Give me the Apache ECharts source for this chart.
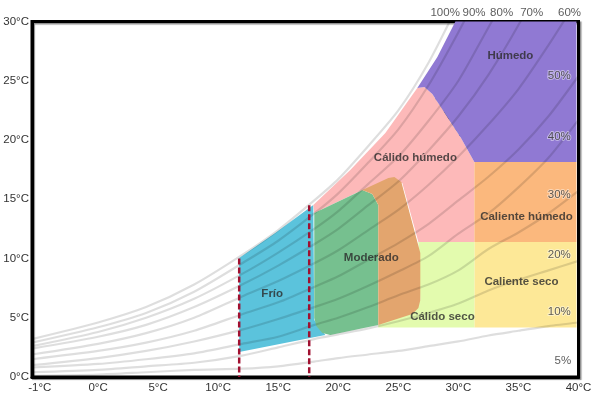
<!DOCTYPE html>
<html><head><meta charset="utf-8">
<style>html,body{margin:0;padding:0;background:#fff}#c{width:601px;height:405px}</style>
<script src="https://cdn.jsdelivr.net/npm/echarts@6/dist/echarts.min.js"></script>
</head><body><div id="c"></div>
<script>
const temps=[-5.5,0,4,8,12,15,18,20,22.5,25,27.5,30,32.5,35,37.5,40];
const rh100=[3.2,4.6,5.9,7.8,10.3,12.4,14.9,16.7,19.5,22.5,26.5,31.5,36.8,41.5,46.5,51];
const rh90=[2.9,4.2,5.4,7.2,9.6,11.5,13.8,15.5,18.1,20.9,24.6,29.1,34,39,44,49];
const rh80=[2.6,3.8,5.0,6.6,8.7,10.5,12.5,14.0,16.3,18.6,21.6,25.0,29.5,34,39,44];
const rh70=[2.4,3.4,4.4,5.9,7.8,9.4,11.2,12.5,14.5,16.5,19.1,22.0,25.5,29.7,34.5,39.5];
const rh60=[1.9,2.8,3.7,5.0,6.8,8.1,9.6,10.7,12.4,14.1,16.2,18.6,21.3,24.3,28,32];
const rh50=[1.5,2.2,2.9,3.9,5.3,6.3,7.6,8.5,9.9,11.3,12.9,14.9,16.9,19.2,22,25.4];
const rh40=[1.0,1.6,2.2,3.0,4.0,4.9,5.9,6.6,7.7,8.9,10.2,12.1,13.8,16,18.5,21.7];
const rh30=[0.8,1.1,1.5,2.0,2.8,3.4,4.4,5.0,5.9,6.9,7.8,9.0,10.8,12.2,13.8,15.7];
const rh20=[0.4,0.6,0.9,1.2,1.8,2.5,3.2,3.6,4.1,4.7,5.4,6.2,7.3,8.2,9.0,9.8];
const rh10=[0.1,0.2,0.4,0.6,0.7,0.9,1.3,1.6,1.9,2.2,2.6,3.0,3.5,3.9,4.3,4.6];
const curves=[rh100,rh90,rh80,rh70,rh60,rh50,rh40,rh30,rh20,rh10];

const zonePink=[[17.92,14.51],[21,17.47],[23.92,20.59],[26.58,24.39],[27.17,24.47],[27.83,23.88],[30.17,20.25],[31.33,18.14],[31.33,11.39],[26.67,11.39],[25.33,16.37],[21.83,15.7],[18,13.84]];
const zonePurple=[[26.58,24.39],[28.25,27],[29.75,30],[39.83,30],[39.83,18.14],[31.33,18.14],[30.17,20.25],[27.83,23.88],[27.17,24.47]];
const zoneHotHumid=[[31.33,18.14],[39.83,18.14],[39.83,11.39],[31.33,11.39]];
const zoneHotDry=[[31.33,11.39],[39.83,11.39],[39.83,4.18],[31.33,4.18]];
const zoneWarmDry=[[26.67,11.39],[31.33,11.39],[31.33,4.18],[23.33,4.18],[23.33,4.39],[26.83,6.5]];
const zoneCold=[[11.75,10.04],[14.75,12.15],[17.92,14.51],[18,4.81],[18.92,3.54],[11.75,2.11]];
const zoneModGreen=[[18,13.84],[21.67,15.61],[22,15.78],[22.83,15.44],[23.33,14.51],[23.33,4.39],[19.33,3.54],[18.67,3.71],[18.17,4.3],[18,4.98]];
const zoneModOrange=[[21.83,15.7],[24.17,16.79],[24.67,16.88],[25.25,16.46],[26.83,10.46],[26.83,6.5],[26.67,5.82],[26.17,5.32],[23.33,4.39],[23.33,14.51],[22.83,15.44],[22,15.78]];
const zones=[[zoneCold,'#5BC3DC'],[zonePink,'#FDB9B9'],[zonePurple,'#9079D3'],[zoneHotHumid,'#FBB87D'],[zoneHotDry,'#FDE897'],[zoneWarmDry,'#E3FBAE'],[zoneModGreen,'#76C08F'],[zoneModOrange,'#E3A56E']];

const zoneLabels=[['Húmedo',34.33,27.09],['Cálido húmedo',26.42,18.48],['Caliente húmedo',35.67,13.5],['Moderado',22.75,10.04],['Frío',14.5,7.0],['Caliente seco',35.25,8.02],['Cálido seco',28.67,5.06]];
const rhLabels=[['100%',28.9,30.75],['90%',31.3,30.75],['80%',33.6,30.75],['70%',36.1,30.75],['60%',39.25,30.75],['50%',38.4,25.4],['40%',38.4,20.3],['30%',38.4,15.4],['20%',38.4,10.3],['10%',38.4,5.5],['5%',38.7,1.35]];
const coldLimit=[[11.75,10],[11.75,0]];
const warmLimit=[[17.58,14.5],[17.58,0]];
const xTickValues=[-4.85,0,5,10,15,20,25,30,35,40];
const xTickLabels=['-1°C','0°C','5°C','10°C','15°C','20°C','25°C','30°C','35°C','40°C'];
const FONT='"Liberation Sans",Arial,sans-serif';

const series=[];
zones.forEach(([pts,color])=>{
  series.push({type:'custom',coordinateSystem:'cartesian2d',clip:false,silent:true,z:2,data:[[pts[0][0],pts[0][1]]],
    renderItem:(p,api)=>({type:'polygon',shape:{points:pts.map(q=>api.coord(q))},style:{fill:color}})});
});
curves.forEach(c=>{
  series.push({type:'line',z:3,smooth:0.25,symbol:'none',silent:true,clip:true,
    data:temps.map((t,i)=>[t,c[i]]),lineStyle:{color:'rgba(0,0,0,0.13)',width:2.2}});
});
[coldLimit,warmLimit].forEach(d=>{
  series.push({type:'line',z:4,symbol:'none',silent:true,data:d,lineStyle:{color:'#A01030',width:2.5,type:[6,3]}});
});
series.push({type:'scatter',z:6,symbolSize:0,silent:true,clip:false,
  data:zoneLabels.map(l=>({value:[l[1],l[2]],label:{show:true,formatter:l[0]}})),
  label:{show:true,position:'inside',color:'#2b2b2b',fontFamily:FONT,fontSize:11.5,fontWeight:'bold'}});
series.push({type:'scatter',z:6,symbolSize:0,silent:true,clip:false,
  data:rhLabels.map(l=>({value:[l[1],l[2]],label:{show:true,formatter:l[0]}})),
  label:{show:true,position:'inside',color:'#333',fontFamily:FONT,fontSize:11.5,textBorderColor:'rgba(255,255,255,0.55)',textBorderWidth:2}});

const chart=echarts.init(document.getElementById('c'),null,{renderer:'canvas'});
chart.setOption({
  animation:false,
  grid:{left:32,right:22.5,top:21.5,bottom:28,show:true,backgroundColor:'#fff',borderColor:'#000',borderWidth:3,shadowColor:'rgba(0,0,0,0.45)',shadowBlur:1,shadowOffsetX:1.5,shadowOffsetY:1.5},
  xAxis:{type:'value',min:-5.5,max:40,splitLine:{show:false},axisTick:{show:false},
    axisLine:{show:true,onZero:false,lineStyle:{color:'#000',width:3}},
    axisLabel:{customValues:xTickValues,formatter:v=>xTickLabels[xTickValues.indexOf(v)],color:'#333',fontFamily:FONT,fontSize:11.5,margin:5,hideOverlap:false,textBorderColor:'rgba(255,255,255,0.5)',textBorderWidth:1}},
  yAxis:{type:'value',min:0,max:30,interval:5,splitLine:{show:false},axisTick:{show:false},
    axisLine:{show:true,onZero:false,lineStyle:{color:'#000',width:3}},
    axisLabel:{formatter:'{value}°C',color:'#333',fontFamily:FONT,fontSize:11.5,margin:3}},
  series,
  graphic:[{type:'group',left:433,top:83,z:10,children:[
    {type:'circle',shape:{cx:27,cy:27,r:26},style:{fill:{type:'linear',x:0,y:0,x2:0,y2:1,colorStops:[{offset:0,color:'#D6EEFA'},{offset:1,color:'#A9D6F2'}]},stroke:'#1C5BA6',lineWidth:1.5}},
    {type:'text',style:{x:27,y:6,text:'Nº 1',font:'4.5px '+FONT,fill:'#234',textAlign:'center'}},
    {type:'rect',shape:{x:6,y:14,width:42,height:25},style:{fill:'#F4F1E8'}},
    {type:'rect',shape:{x:7,y:15,width:36,height:5},style:{fill:'#E0D2B4'}},
    {type:'rect',shape:{x:7,y:20,width:38,height:15},style:{fill:'#D8C8A8'}},
    {type:'rect',shape:{x:11,y:22,width:4,height:11},style:{fill:'#3F4F46'}},
    {type:'rect',shape:{x:19,y:22,width:4,height:11},style:{fill:'#3F5F50'}},
    {type:'rect',shape:{x:27,y:22,width:4,height:11},style:{fill:'#3F4F46'}},
    {type:'rect',shape:{x:35,y:22,width:5,height:12},style:{fill:'#A3282A'}},
    {type:'rect',shape:{x:6,y:35,width:42,height:4},style:{fill:'#9A9A9A'}},
    {type:'rect',shape:{x:6,y:33,width:11,height:5,r:2},style:{fill:'#22262A'}},
    {type:'rect',shape:{x:24,y:32,width:15,height:5,r:2},style:{fill:'#F2F2F2'}},
    {type:'text',style:{x:27,y:40,text:'Vivienda',font:'4.5px '+FONT,fill:'#234',textAlign:'center'}},
    {type:'text',style:{x:27,y:45,text:'Tradicional',font:'4.5px '+FONT,fill:'#234',textAlign:'center'}}
  ]}]
});
</script></body></html>
